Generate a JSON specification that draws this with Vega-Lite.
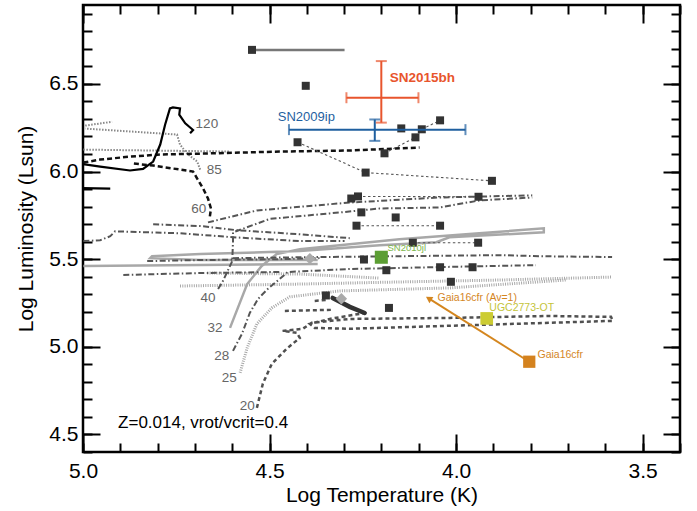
{
"$schema":"https://vega.github.io/schema/vega-lite/v6.json",
"width":597,"height":447,
"autosize":{"type":"none"},
"padding":{"left":83,"top":5,"right":17,"bottom":59},
"config":{"view":{"stroke":"#000","strokeWidth":2.5},"axis":{"grid":false,"domain":false},"font":"Liberation Sans"},
"resolve":{"axis":{"x":"independent","y":"independent"}},
"datasets":{
"tracks":[
{"s":"t120","o":1,"x":5.0,"y":6.042},{"s":"t120","o":2,"x":4.954,"y":6.028},{"s":"t120","o":3,"x":4.874,"y":6.006},{"s":"t120","o":4,"x":4.839,"y":6.015},{"s":"t120","o":5,"x":4.812,"y":6.057},{"s":"t120","o":6,"x":4.793,"y":6.154},{"s":"t120","o":7,"x":4.78,"y":6.267},{"s":"t120","o":8,"x":4.767,"y":6.36},{"s":"t120","o":9,"x":4.759,"y":6.366},{"s":"t120","o":10,"x":4.74,"y":6.36},{"s":"t120","o":11,"x":4.742,"y":6.324},{"s":"t120","o":12,"x":4.726,"y":6.275},{"s":"t120","o":13,"x":4.705,"y":6.237},{"s":"t120","o":14,"x":4.713,"y":6.218},
{"s":"t120b","o":1,"x":5.0,"y":5.905},{"s":"t120b","o":2,"x":4.927,"y":5.902},
{"s":"t85","o":1,"x":4.686,"y":6.011},{"s":"t85","o":2,"x":4.694,"y":6.057},{"s":"t85","o":3,"x":4.721,"y":6.102},{"s":"t85","o":4,"x":4.74,"y":6.154},{"s":"t85","o":5,"x":4.748,"y":6.211},{"s":"t85","o":6,"x":4.994,"y":6.245},
{"s":"t85b","o":1,"x":4.994,"y":6.262},{"s":"t85b","o":2,"x":4.922,"y":6.284},
{"s":"t85c","o":1,"x":4.999,"y":6.125},{"s":"t85c","o":2,"x":4.82,"y":6.12},{"s":"t85c","o":3,"x":4.606,"y":6.114},
{"s":"t60","o":1,"x":4.66,"y":5.744},{"s":"t60","o":2,"x":4.657,"y":5.789},{"s":"t60","o":3,"x":4.665,"y":5.846},{"s":"t60","o":4,"x":4.678,"y":5.903},{"s":"t60","o":5,"x":4.694,"y":5.96},{"s":"t60","o":6,"x":4.705,"y":6.0},{"s":"t60","o":7,"x":4.812,"y":6.034},{"s":"t60","o":8,"x":4.866,"y":6.046},
{"s":"t60b","o":1,"x":4.999,"y":6.051},{"s":"t60b","o":2,"x":4.954,"y":6.068},{"s":"t60b","o":3,"x":4.874,"y":6.085},{"s":"t60b","o":4,"x":4.793,"y":6.097},{"s":"t60b","o":5,"x":4.686,"y":6.102},{"s":"t60b","o":6,"x":4.473,"y":6.114},{"s":"t60b","o":7,"x":4.285,"y":6.12},{"s":"t60b","o":8,"x":4.098,"y":6.137},
{"s":"t40","o":1,"x":4.638,"y":5.33},{"s":"t40","o":2,"x":4.625,"y":5.375},{"s":"t40","o":3,"x":4.6,"y":5.489},{"s":"t40","o":4,"x":4.598,"y":5.603},{"s":"t40","o":5,"x":4.598,"y":5.653},{"s":"t40","o":6,"x":4.499,"y":5.73},{"s":"t40","o":7,"x":4.339,"y":5.761},{"s":"t40","o":8,"x":4.205,"y":5.789},{"s":"t40","o":9,"x":4.045,"y":5.795},{"s":"t40","o":10,"x":3.938,"y":5.835},{"s":"t40","o":11,"x":3.796,"y":5.852},
{"s":"ddA","o":1,"x":4.665,"y":5.71},{"s":"ddA","o":2,"x":4.534,"y":5.778},{"s":"ddA","o":3,"x":4.285,"y":5.823},{"s":"ddA","o":4,"x":4.045,"y":5.852},{"s":"ddA","o":5,"x":3.796,"y":5.864},
{"s":"dd3","o":1,"x":4.812,"y":5.699},{"s":"dd3","o":2,"x":4.678,"y":5.688},{"s":"dd3","o":3,"x":4.587,"y":5.665},{"s":"dd3","o":4,"x":4.419,"y":5.642},{"s":"dd3","o":5,"x":4.285,"y":5.62},
{"s":"dd4","o":1,"x":4.999,"y":5.603},{"s":"dd4","o":2,"x":4.954,"y":5.608},{"s":"dd4","o":3,"x":4.927,"y":5.631},{"s":"dd4","o":4,"x":4.914,"y":5.659},{"s":"dd4","o":5,"x":4.74,"y":5.648},{"s":"dd4","o":6,"x":4.598,"y":5.625},{"s":"dd4","o":7,"x":4.419,"y":5.603},{"s":"dd4","o":8,"x":4.299,"y":5.603},
{"s":"dd5","o":1,"x":4.598,"y":5.506},{"s":"dd5","o":2,"x":4.366,"y":5.512},{"s":"dd5","o":3,"x":4.152,"y":5.517},{"s":"dd5","o":4,"x":3.884,"y":5.523},{"s":"dd5","o":5,"x":3.778,"y":5.517},{"s":"dd5","o":6,"x":3.582,"y":5.512},
{"s":"dd6","o":1,"x":4.892,"y":5.41},{"s":"dd6","o":2,"x":4.686,"y":5.421},{"s":"dd6","o":3,"x":4.473,"y":5.427},
{"s":"dd7","o":1,"x":4.828,"y":5.489},{"s":"dd7","o":2,"x":4.686,"y":5.495},{"s":"dd7","o":3,"x":4.473,"y":5.5},{"s":"dd7","o":4,"x":4.366,"y":5.506},
{"s":"t28","o":1,"x":4.598,"y":4.977},{"s":"t28","o":2,"x":4.574,"y":5.074},{"s":"t28","o":3,"x":4.553,"y":5.193},{"s":"t28","o":4,"x":4.531,"y":5.273},{"s":"t28","o":5,"x":4.505,"y":5.33},{"s":"t28","o":6,"x":4.473,"y":5.387},{"s":"t28","o":7,"x":4.451,"y":5.427},{"s":"t28","o":8,"x":4.285,"y":5.444},{"s":"t28","o":9,"x":4.045,"y":5.455},{"s":"t28","o":10,"x":3.786,"y":5.466},
{"s":"t32","o":1,"x":4.606,"y":5.108},{"s":"t32","o":2,"x":4.56,"y":5.358},{"s":"t32","o":3,"x":4.521,"y":5.461},{"s":"t32","o":4,"x":4.481,"y":5.529},{"s":"t32","o":5,"x":4.419,"y":5.557},{"s":"t32","o":6,"x":4.152,"y":5.614},{"s":"t32","o":7,"x":3.938,"y":5.648},{"s":"t32","o":8,"x":3.765,"y":5.676},{"s":"t32","o":9,"x":3.765,"y":5.653},{"s":"t32","o":10,"x":4.018,"y":5.625},{"s":"t32","o":11,"x":4.053,"y":5.597},{"s":"t32","o":12,"x":4.205,"y":5.58},{"s":"t32","o":13,"x":4.419,"y":5.546},{"s":"t32","o":14,"x":4.686,"y":5.529},{"s":"t32","o":15,"x":4.815,"y":5.517},{"s":"t32","o":16,"x":4.82,"y":5.506},{"s":"t32","o":17,"x":4.686,"y":5.495},{"s":"t32","o":18,"x":4.371,"y":5.495},
{"s":"t32b","o":1,"x":4.999,"y":5.461},{"s":"t32b","o":2,"x":4.371,"y":5.472},
{"s":"t25","o":1,"x":4.579,"y":4.852},{"s":"t25","o":2,"x":4.56,"y":4.994},{"s":"t25","o":3,"x":4.534,"y":5.131},{"s":"t25","o":4,"x":4.494,"y":5.222},{"s":"t25","o":5,"x":4.446,"y":5.285},{"s":"t25","o":6,"x":4.312,"y":5.319},{"s":"t25","o":7,"x":4.018,"y":5.336},{"s":"t25","o":8,"x":3.706,"y":5.381},
{"s":"t25b","o":1,"x":4.74,"y":5.347},{"s":"t25b","o":2,"x":4.419,"y":5.358},{"s":"t25b","o":3,"x":4.152,"y":5.37},{"s":"t25b","o":4,"x":3.884,"y":5.381},{"s":"t25b","o":5,"x":3.582,"y":5.398},
{"s":"t25c","o":1,"x":4.667,"y":5.421},{"s":"t25c","o":2,"x":4.419,"y":5.415},{"s":"t25c","o":3,"x":4.205,"y":5.392},
{"s":"t20","o":1,"x":4.534,"y":4.652},{"s":"t20","o":2,"x":4.518,"y":4.79},{"s":"t20","o":3,"x":4.494,"y":4.903},{"s":"t20","o":4,"x":4.454,"y":4.989},{"s":"t20","o":5,"x":4.419,"y":5.051},{"s":"t20","o":6,"x":4.427,"y":5.08},{"s":"t20","o":7,"x":4.465,"y":5.091},{"s":"t20","o":8,"x":4.411,"y":5.103},{"s":"t20","o":9,"x":4.387,"y":5.137},{"s":"t20","o":10,"x":4.285,"y":5.159},{"s":"t20","o":11,"x":4.018,"y":5.165},{"s":"t20","o":12,"x":3.751,"y":5.176},{"s":"t20","o":13,"x":3.585,"y":5.171},{"s":"t20","o":14,"x":3.58,"y":5.148},{"s":"t20","o":15,"x":3.751,"y":5.137},{"s":"t20","o":16,"x":4.018,"y":5.12},{"s":"t20","o":17,"x":4.285,"y":5.103},{"s":"t20","o":18,"x":4.379,"y":5.108},{"s":"t20","o":19,"x":4.392,"y":5.131},{"s":"t20","o":20,"x":4.339,"y":5.159},{"s":"t20","o":21,"x":4.245,"y":5.193},
{"s":"t20b","o":1,"x":4.459,"y":5.205},{"s":"t20b","o":2,"x":4.331,"y":5.211},
{"s":"t20c","o":1,"x":4.379,"y":5.262},{"s":"t20c","o":2,"x":4.344,"y":5.268},
{"s":"wedge","o":1,"x":4.331,"y":5.279},{"s":"wedge","o":2,"x":4.285,"y":5.228},{"s":"wedge","o":3,"x":4.245,"y":5.193},
{"s":"c1","o":1,"x":4.425,"y":6.167},{"s":"c1","o":2,"x":4.2425,"y":5.994},{"s":"c1","o":3,"x":3.904,"y":5.947},
{"s":"c2","o":1,"x":4.263,"y":5.858},{"s":"c2","o":2,"x":3.94,"y":5.856},
{"s":"c3","o":1,"x":4.267,"y":5.691},{"s":"c3","o":2,"x":4.043,"y":5.691},
{"s":"c4","o":1,"x":4.116,"y":5.594},{"s":"c4","o":2,"x":3.941,"y":5.594},
{"s":"c5","o":1,"x":4.192,"y":6.104},{"s":"c5","o":2,"x":4.109,"y":6.195},{"s":"c5","o":3,"x":4.092,"y":6.241},{"s":"c5","o":4,"x":4.043,"y":6.292}
],
"pts":[
{"x":4.547,"y":6.694},{"x":4.403,"y":6.489},{"x":4.425,"y":6.167},{"x":4.2425,"y":5.994},{"x":3.904,"y":5.947},{"x":4.192,"y":6.104},{"x":4.147,"y":6.246},{"x":4.092,"y":6.241},{"x":4.109,"y":6.195},{"x":4.043,"y":6.292},{"x":4.281,"y":5.846},{"x":4.263,"y":5.858},{"x":4.254,"y":5.767},{"x":4.267,"y":5.691},{"x":4.162,"y":5.738},{"x":3.94,"y":5.856},{"x":4.043,"y":5.691},{"x":4.116,"y":5.594},{"x":3.941,"y":5.594},{"x":4.247,"y":5.498},{"x":4.187,"y":5.437},{"x":4.043,"y":5.454},{"x":3.956,"y":5.454},{"x":4.014,"y":5.371},{"x":4.18,"y":5.222},{"x":4.349,"y":5.293}
],
"objs":[{"obj":"SN2010jl","x":4.2005,"y":5.511},{"obj":"UGC2773-OT","x":3.918,"y":5.162},{"obj":"Gaia16cfr","x":3.804,"y":4.915}],
"dia":[{"x":4.392,"y":5.503},{"x":4.3075,"y":5.274}],
"errs":[{"obj":"SN2015bh","x":4.2005,"xlo":4.294,"xhi":4.101,"y":6.421,"ylo":6.279,"yhi":6.63},{"obj":"SN2009ip","x":4.218,"xlo":4.448,"xhi":3.975,"y":6.239,"ylo":6.175,"yhi":6.297}],
"bar":[{"x":4.547,"x2":4.299,"y":6.694}],
"arrow":[{"x":3.804,"y":4.915,"x2":4.0735,"y2":5.276}],
"labels":[
{"g":"mass","text":"120","x":4.668,"y":6.273},{"g":"mass","text":"85","x":4.648,"y":6.011},{"g":"mass","text":"60","x":4.69,"y":5.784},{"g":"mass","text":"40","x":4.665,"y":5.279},{"g":"mass","text":"32","x":4.646,"y":5.108},{"g":"mass","text":"28","x":4.628,"y":4.948},{"g":"mass","text":"25","x":4.608,"y":4.823},{"g":"mass","text":"20","x":4.56,"y":4.665},
{"g":"note","text":"Z=0.014, vrot/vcrit=0.4","x":4.906,"y":4.566},
{"g":"SN2015bh","text":"SN2015bh","x":4.178,"y":6.535},
{"g":"SN2009ip","text":"SN2009ip","x":4.478,"y":6.313},
{"g":"SN2010jl","text":"SN2010jl","x":4.184,"y":5.563},
{"g":"UGC2773-OT","text":"UGC2773-OT","x":3.911,"y":5.222},
{"g":"Gaia16cfr","text":"Gaia16cfr","x":3.782,"y":4.953},
{"g":"Gaia16cfr","text":"Gaia16cfr (Av=1)","x":4.05,"y":5.28}
]
},
"layer":[
{"data":{"name":"tracks"},"transform":[{"filter":{"field":"s","oneOf":["t32","t32b"]}}],
 "mark":{"type":"line","color":"#a8a8a8","strokeWidth":2.5,"clip":true},
 "encoding":{"x":{"field":"x","type":"quantitative","scale":{"domain":[3.4,5.0],"reverse":true,"nice":false,"zero":false},"axis":null},"y":{"field":"y","type":"quantitative","scale":{"domain":[4.4,6.95],"nice":false,"zero":false},"axis":null},"detail":{"field":"s"},"order":{"field":"o","type":"quantitative"}}},
{"data":{"name":"tracks"},"transform":[{"filter":{"field":"s","oneOf":["t25","t25b","t25c"]}}],
 "mark":{"type":"line","color":"#a8a8a8","strokeWidth":3,"strokeDash":[1,1.3],"clip":true},
 "encoding":{"x":{"field":"x","type":"quantitative","scale":{"domain":[3.4,5.0],"reverse":true,"nice":false,"zero":false},"axis":null},"y":{"field":"y","type":"quantitative","scale":{"domain":[4.4,6.95],"nice":false,"zero":false},"axis":null},"detail":{"field":"s"},"order":{"field":"o","type":"quantitative"}}},
{"data":{"name":"tracks"},"transform":[{"filter":{"field":"s","oneOf":["t40","ddA","dd3","dd4","dd5","dd6","dd7","t28"]}}],
 "mark":{"type":"line","color":"#555555","strokeWidth":2,"strokeDash":[6,2.5,1.5,2.5],"clip":true},
 "encoding":{"x":{"field":"x","type":"quantitative","scale":{"domain":[3.4,5.0],"reverse":true,"nice":false,"zero":false},"axis":{"orient":"top","values":[3.4,3.5,3.6,3.7,3.8,3.9,4.0,4.1,4.2,4.3,4.4,4.5,4.6,4.7,4.8,4.9,5.0],"labels":false,"ticks":true,"tickSize":-9,"tickWidth":2,"tickColor":"#000","domain":false,"grid":false,"title":null}},"y":{"field":"y","type":"quantitative","scale":{"domain":[4.4,6.95],"nice":false,"zero":false},"axis":{"orient":"right","values":[4.4,4.5,4.6,4.7,4.8,4.9,5.0,5.1,5.2,5.3,5.4,5.5,5.6,5.7,5.8,5.9,6.0,6.1,6.2,6.3,6.4,6.5,6.6,6.7,6.8,6.9],"labels":false,"ticks":true,"tickSize":-9,"tickWidth":2,"tickColor":"#000","domain":false,"grid":false,"title":null}},"detail":{"field":"s"},"order":{"field":"o","type":"quantitative"}}},
{"data":{"name":"tracks"},"transform":[{"filter":{"field":"s","oneOf":["t20","t20b","t20c"]}}],
 "mark":{"type":"line","color":"#505050","strokeWidth":2.5,"strokeDash":[4,3],"clip":true},
 "encoding":{"x":{"field":"x","type":"quantitative","scale":{"domain":[3.4,5.0],"reverse":true,"nice":false,"zero":false},"axis":null},"y":{"field":"y","type":"quantitative","scale":{"domain":[4.4,6.95],"nice":false,"zero":false},"axis":null},"detail":{"field":"s"},"order":{"field":"o","type":"quantitative"}}},
{"data":{"name":"tracks"},"transform":[{"filter":{"field":"s","oneOf":["t85","t85b","t85c"]}}],
 "mark":{"type":"line","color":"#888888","strokeWidth":2,"strokeDash":[1.5,1.5],"clip":true},
 "encoding":{"x":{"field":"x","type":"quantitative","scale":{"domain":[3.4,5.0],"reverse":true,"nice":false,"zero":false},"axis":{"orient":"bottom","values":[3.4,3.5,3.6,3.7,3.8,3.9,4.0,4.1,4.2,4.3,4.4,4.5,4.6,4.7,4.8,4.9,5.0],"labels":false,"ticks":true,"tickSize":-9,"tickWidth":2,"tickColor":"#000","domain":false,"grid":false,"title":null}},"y":{"field":"y","type":"quantitative","scale":{"domain":[4.4,6.95],"nice":false,"zero":false},"axis":{"orient":"left","values":[4.4,4.5,4.6,4.7,4.8,4.9,5.0,5.1,5.2,5.3,5.4,5.5,5.6,5.7,5.8,5.9,6.0,6.1,6.2,6.3,6.4,6.5,6.6,6.7,6.8,6.9],"labels":false,"ticks":true,"tickSize":-9,"tickWidth":2,"tickColor":"#000","domain":false,"grid":false,"title":null}},"detail":{"field":"s"},"order":{"field":"o","type":"quantitative"}}},
{"data":{"name":"tracks"},"transform":[{"filter":{"field":"s","oneOf":["t60","t60b"]}}],
 "mark":{"type":"line","color":"#111111","strokeWidth":2.5,"strokeDash":[5,3],"clip":true},
 "encoding":{"x":{"field":"x","type":"quantitative","scale":{"domain":[3.4,5.0],"reverse":true,"nice":false,"zero":false},"axis":{"orient":"top","values":[3.5,4.0,4.5,5.0],"labels":false,"ticks":true,"tickSize":-18,"tickWidth":2,"tickColor":"#000","domain":false,"grid":false,"title":null}},"y":{"field":"y","type":"quantitative","scale":{"domain":[4.4,6.95],"nice":false,"zero":false},"axis":{"orient":"right","values":[4.5,5.0,5.5,6.0,6.5],"labels":false,"ticks":true,"tickSize":-17,"tickWidth":2,"tickColor":"#000","domain":false,"grid":false,"title":null}},"detail":{"field":"s"},"order":{"field":"o","type":"quantitative"}}},
{"data":{"name":"tracks"},"transform":[{"filter":{"field":"s","oneOf":["t120","t120b"]}}],
 "mark":{"type":"line","color":"#000000","strokeWidth":2.2,"clip":true},
 "encoding":{"x":{"field":"x","type":"quantitative","scale":{"domain":[3.4,5.0],"reverse":true,"nice":false,"zero":false},"axis":{"orient":"bottom","values":[3.5,4.0,4.5,5.0],"labels":false,"ticks":true,"tickSize":-18,"tickWidth":2,"tickColor":"#000","domain":false,"grid":false,"title":null}},"y":{"field":"y","type":"quantitative","scale":{"domain":[4.4,6.95],"nice":false,"zero":false},"axis":{"orient":"left","values":[4.5,5.0,5.5,6.0,6.5],"labels":false,"ticks":true,"tickSize":-17,"tickWidth":2,"tickColor":"#000","domain":false,"grid":false,"title":null}},"detail":{"field":"s"},"order":{"field":"o","type":"quantitative"}}},
{"data":{"name":"tracks"},"transform":[{"filter":{"field":"s","equal":"wedge"}}],
 "mark":{"type":"line","color":"#333333","strokeWidth":4.5,"strokeCap":"round","clip":true},
 "encoding":{"x":{"field":"x","type":"quantitative","scale":{"domain":[3.4,5.0],"reverse":true,"nice":false,"zero":false},"axis":null},"y":{"field":"y","type":"quantitative","scale":{"domain":[4.4,6.95],"nice":false,"zero":false},"axis":null},"order":{"field":"o","type":"quantitative"}}},
{"data":{"name":"tracks"},"transform":[{"filter":{"field":"s","oneOf":["c1","c2","c3","c4","c5"]}}],
 "mark":{"type":"line","color":"#555555","strokeWidth":1.1,"strokeDash":[2.5,2.5],"clip":true},
 "encoding":{"x":{"field":"x","type":"quantitative","scale":{"domain":[3.4,5.0],"reverse":true,"nice":false,"zero":false},"axis":null},"y":{"field":"y","type":"quantitative","scale":{"domain":[4.4,6.95],"nice":false,"zero":false},"axis":null},"detail":{"field":"s"},"order":{"field":"o","type":"quantitative"}}},
{"data":{"name":"bar"},"mark":{"type":"rule","color":"#777777","strokeWidth":2.5},
 "encoding":{"x":{"field":"x","type":"quantitative","scale":{"domain":[3.4,5.0],"reverse":true,"nice":false,"zero":false},"axis":null},"x2":{"field":"x2"},"y":{"field":"y","type":"quantitative","scale":{"domain":[4.4,6.95],"nice":false,"zero":false},"axis":null}}},
{"data":{"name":"pts"},"mark":{"type":"point","shape":"square","filled":true,"color":"#333333","size":64,"opacity":1},
 "encoding":{"x":{"field":"x","type":"quantitative","scale":{"domain":[3.4,5.0],"reverse":true,"nice":false,"zero":false},"axis":{"orient":"bottom","values":[5.0,4.5,4.0,3.5],"format":".1f","ticks":false,"domain":false,"grid":false,"labelFlush":false,"labelOverlap":false,"labelBound":false,"labelPadding":8,"labelFontSize":21,"labelFont":"Liberation Sans","labelColor":"#000","title":"Log Temperature (K)","titleFontSize":21,"titleFont":"Liberation Sans","titleFontWeight":"normal","titleColor":"#000","titlePadding":3}},"y":{"field":"y","type":"quantitative","scale":{"domain":[4.4,6.95],"nice":false,"zero":false},"axis":{"orient":"left","values":[4.5,5.0,5.5,6.0,6.5],"format":".1f","ticks":false,"domain":false,"grid":false,"labelFlush":false,"labelOverlap":false,"labelBound":false,"labelPadding":5,"labelFontSize":21,"labelFont":"Liberation Sans","labelColor":"#000","title":"Log Luminosity (Lsun)","titleFontSize":21,"titleFont":"Liberation Sans","titleFontWeight":"normal","titleColor":"#000","titlePadding":12}}}},
{"data":{"name":"dia"},"mark":{"type":"point","shape":"diamond","filled":true,"color":"#aaaaaa","size":130,"opacity":1},
 "encoding":{"x":{"field":"x","type":"quantitative","scale":{"domain":[3.4,5.0],"reverse":true,"nice":false,"zero":false},"axis":null},"y":{"field":"y","type":"quantitative","scale":{"domain":[4.4,6.95],"nice":false,"zero":false},"axis":null}}},
{"data":{"name":"arrow"},"mark":{"type":"rule","color":"#d4861f","strokeWidth":2},
 "encoding":{"x":{"field":"x","type":"quantitative","scale":{"domain":[3.4,5.0],"reverse":true,"nice":false,"zero":false},"axis":null},"x2":{"field":"x2"},"y":{"field":"y","type":"quantitative","scale":{"domain":[4.4,6.95],"nice":false,"zero":false},"axis":null},"y2":{"field":"y2"}}},
{"data":{"name":"arrow"},"mark":{"type":"point","shape":"triangle-up","filled":true,"color":"#d4861f","size":55,"angle":302,"opacity":1},
 "encoding":{"x":{"field":"x2","type":"quantitative","scale":{"domain":[3.4,5.0],"reverse":true,"nice":false,"zero":false},"axis":null},"y":{"field":"y2","type":"quantitative","scale":{"domain":[4.4,6.95],"nice":false,"zero":false},"axis":null}}},
{"data":{"name":"objs"},"mark":{"type":"point","shape":"square","filled":true,"opacity":1},
 "encoding":{"x":{"field":"x","type":"quantitative","scale":{"domain":[3.4,5.0],"reverse":true,"nice":false,"zero":false},"axis":null},"y":{"field":"y","type":"quantitative","scale":{"domain":[4.4,6.95],"nice":false,"zero":false},"axis":null},
 "color":{"field":"obj","type":"nominal","scale":{"domain":["SN2010jl","UGC2773-OT","Gaia16cfr","SN2015bh","SN2009ip"],"range":["#5c9e34","#cccc33","#d4821e","#e8552d","#1f5f9f"]},"legend":null},
 "size":{"field":"obj","type":"nominal","scale":{"domain":["SN2010jl","UGC2773-OT","Gaia16cfr"],"range":[170,150,140]},"legend":null}}},
{"data":{"name":"errs"},"mark":{"type":"rule","strokeWidth":2},
 "encoding":{"x":{"field":"xlo","type":"quantitative","scale":{"domain":[3.4,5.0],"reverse":true,"nice":false,"zero":false},"axis":null},"x2":{"field":"xhi"},"y":{"field":"y","type":"quantitative","scale":{"domain":[4.4,6.95],"nice":false,"zero":false},"axis":null},"color":{"field":"obj","type":"nominal","legend":null}}},
{"data":{"name":"errs"},"mark":{"type":"rule","strokeWidth":2},
 "encoding":{"x":{"field":"x","type":"quantitative","scale":{"domain":[3.4,5.0],"reverse":true,"nice":false,"zero":false},"axis":null},"y":{"field":"ylo","type":"quantitative","scale":{"domain":[4.4,6.95],"nice":false,"zero":false},"axis":null},"y2":{"field":"yhi"},"color":{"field":"obj","type":"nominal","legend":null}}},
{"data":{"name":"errs"},"transform":[{"fold":["xlo","xhi"],"as":["k","v"]}],"mark":{"type":"tick","orient":"vertical","size":11,"thickness":2},
 "encoding":{"x":{"field":"v","type":"quantitative","scale":{"domain":[3.4,5.0],"reverse":true,"nice":false,"zero":false},"axis":null},"y":{"field":"y","type":"quantitative","scale":{"domain":[4.4,6.95],"nice":false,"zero":false},"axis":null},"color":{"field":"obj","type":"nominal","legend":null}}},
{"data":{"name":"errs"},"transform":[{"fold":["ylo","yhi"],"as":["k","v"]}],"mark":{"type":"tick","orient":"horizontal","size":11,"thickness":2},
 "encoding":{"x":{"field":"x","type":"quantitative","scale":{"domain":[3.4,5.0],"reverse":true,"nice":false,"zero":false},"axis":null},"y":{"field":"v","type":"quantitative","scale":{"domain":[4.4,6.95],"nice":false,"zero":false},"axis":null},"color":{"field":"obj","type":"nominal","legend":null}}},
{"data":{"name":"labels"},"transform":[{"filter":{"field":"g","equal":"mass"}}],"mark":{"type":"text","align":"center","baseline":"middle","font":"Liberation Sans","fontSize":13.5,"color":"#666666"},
 "encoding":{"x":{"field":"x","type":"quantitative","scale":{"domain":[3.4,5.0],"reverse":true,"nice":false,"zero":false},"axis":null},"y":{"field":"y","type":"quantitative","scale":{"domain":[4.4,6.95],"nice":false,"zero":false},"axis":null},"text":{"field":"text"}}},
{"data":{"name":"labels"},"transform":[{"filter":{"field":"g","equal":"note"}}],"mark":{"type":"text","align":"left","baseline":"middle","font":"Liberation Sans","fontSize":17,"color":"#000000"},
 "encoding":{"x":{"field":"x","type":"quantitative","scale":{"domain":[3.4,5.0],"reverse":true,"nice":false,"zero":false},"axis":null},"y":{"field":"y","type":"quantitative","scale":{"domain":[4.4,6.95],"nice":false,"zero":false},"axis":null},"text":{"field":"text"}}},
{"data":{"name":"labels"},"transform":[{"filter":{"field":"g","equal":"SN2015bh"}}],"mark":{"type":"text","align":"left","baseline":"middle","font":"Liberation Sans","fontSize":13.5,"fontWeight":"bold","color":"#e8552d"},
 "encoding":{"x":{"field":"x","type":"quantitative","scale":{"domain":[3.4,5.0],"reverse":true,"nice":false,"zero":false},"axis":null},"y":{"field":"y","type":"quantitative","scale":{"domain":[4.4,6.95],"nice":false,"zero":false},"axis":null},"text":{"field":"text"}}},
{"data":{"name":"labels"},"transform":[{"filter":{"field":"g","equal":"SN2009ip"}}],"mark":{"type":"text","align":"left","baseline":"middle","font":"Liberation Sans","fontSize":13,"color":"#1f5f9f"},
 "encoding":{"x":{"field":"x","type":"quantitative","scale":{"domain":[3.4,5.0],"reverse":true,"nice":false,"zero":false},"axis":null},"y":{"field":"y","type":"quantitative","scale":{"domain":[4.4,6.95],"nice":false,"zero":false},"axis":null},"text":{"field":"text"}}},
{"data":{"name":"labels"},"transform":[{"filter":{"field":"g","equal":"SN2010jl"}}],"mark":{"type":"text","align":"left","baseline":"middle","font":"Liberation Sans","fontSize":9.5,"color":"#7cb64a"},
 "encoding":{"x":{"field":"x","type":"quantitative","scale":{"domain":[3.4,5.0],"reverse":true,"nice":false,"zero":false},"axis":null},"y":{"field":"y","type":"quantitative","scale":{"domain":[4.4,6.95],"nice":false,"zero":false},"axis":null},"text":{"field":"text"}}},
{"data":{"name":"labels"},"transform":[{"filter":{"field":"g","equal":"UGC2773-OT"}}],"mark":{"type":"text","align":"left","baseline":"middle","font":"Liberation Sans","fontSize":10.5,"color":"#c4c43a"},
 "encoding":{"x":{"field":"x","type":"quantitative","scale":{"domain":[3.4,5.0],"reverse":true,"nice":false,"zero":false},"axis":null},"y":{"field":"y","type":"quantitative","scale":{"domain":[4.4,6.95],"nice":false,"zero":false},"axis":null},"text":{"field":"text"}}},
{"data":{"name":"labels"},"transform":[{"filter":{"field":"g","equal":"Gaia16cfr"}}],"mark":{"type":"text","align":"left","baseline":"middle","font":"Liberation Sans","fontSize":10.5,"color":"#d4861f"},
 "encoding":{"x":{"field":"x","type":"quantitative","scale":{"domain":[3.4,5.0],"reverse":true,"nice":false,"zero":false},"axis":null},"y":{"field":"y","type":"quantitative","scale":{"domain":[4.4,6.95],"nice":false,"zero":false},"axis":null},"text":{"field":"text"}}}
]
}
